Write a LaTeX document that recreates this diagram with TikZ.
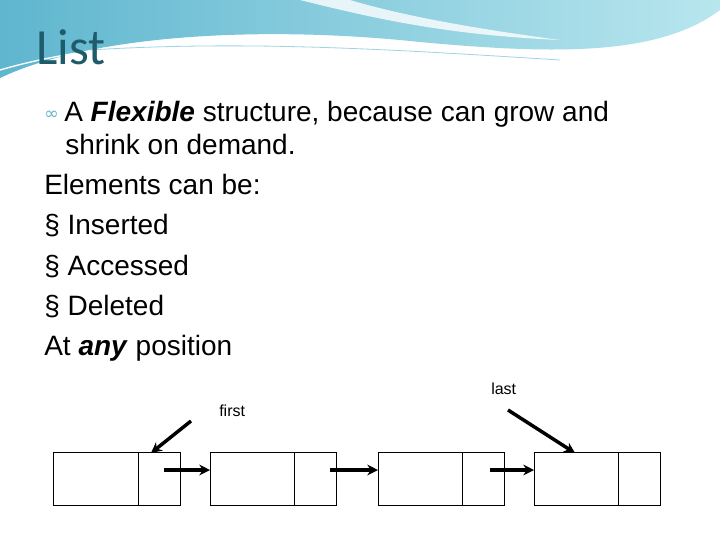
\documentclass[tikz,border=0pt]{standalone}
\usepackage{fontspec}
\setmainfont{Liberation Sans}
\newfontfamily\titlefont{Carlito}
\newfontfamily\symfont{DejaVu Sans}
\definecolor{teal1}{HTML}{1E5B6B}
\definecolor{sky1}{HTML}{5FB6CF}
\definecolor{sky2}{HTML}{B8E6EE}
\tikzset{
  txt/.style={anchor=base west,inner sep=0pt,font=\fontsize{21}{21}\selectfont},
  small/.style={anchor=base west,inner sep=0pt,font=\fontsize{12}{12}\selectfont},
  cell/.style={draw,line width=0.75pt},
  ptr/.style={line width=2.6pt,-{Stealth[length=8pt,width=8pt]}}
}
\usetikzlibrary{arrows.meta}
\begin{document}
\begin{tikzpicture}[x=0.75pt,y=-0.75pt]
\useasboundingbox (0,0) rectangle (720,540);
\fill[white] (0,0) rectangle (720,540);
% header swoosh
\shade[left color=sky1,right color=sky2]
 (0,0)--(720,0)--(720,10) .. controls (660,55) and (560,55) .. (420,42)
 .. controls (260,25) and (90,35) .. (0,78) -- cycle;
\fill[white,opacity=0.8] (300,0) .. controls (380,20) and (450,35) .. (560,40)
 .. controls (470,28) and (400,15) .. (350,0) -- cycle;
\draw[white,line width=1pt] (0,70) .. controls (120,35) and (300,30) .. (520,55);
\draw[sky1!60,line width=0.6pt] (90,50) .. controls (250,40) and (400,50) .. (560,60);
\draw[white,line width=0.8pt] (560,60) .. controls (640,55) and (690,30) .. (720,15);
\node[anchor=base west,inner sep=0pt,text=teal1,font=\titlefont\fontsize{38}{38}\selectfont] (title) at (36,64) {List};
% text
\node[anchor=base west,inner sep=0pt,text=sky1,font=\symfont\fontsize{13}{13}\selectfont] (b0) at (44,119) {∞};
\node[txt] (l1) at (64,121) {A \textbf{\textit{Flexible}} structure, because can grow and};
\node[txt] (l2) at (65,154) {shrink on demand.};
\node[txt] (l3) at (44,194) {Elements can be:};
\node[txt] (l4) at (44,234) {§ Inserted};
\node[txt] (l5) at (44,275) {§ Accessed};
\node[txt] (l6) at (44,315) {§ Deleted};
\node[txt] (l7) at (44,355) {At \textbf{\textit{any}} position};
% list
\foreach \n/\a/\d/\b in {1/53/138/180,2/210/294/336,3/378/462/504,4/534/618/660}{
  \draw[cell] (\a,452) rectangle (\b,505);
  \draw[cell] (\d,452) -- (\d,505);
  \coordinate (in\n) at (\a,470);
}
\coordinate (p1) at (164,470);
\coordinate (p2) at (330,470);
\coordinate (p3) at (490,470);
\draw[ptr] (p1) -- (in2);
\draw[ptr] (p2) -- (in3);
\draw[ptr] (p3) -- (in4);
\node[small] (first) at (219,416) {first};
\node[small] (last) at (491,394) {last};
\coordinate (fs) at (191,421);
\coordinate (fe) at (151,453);
\coordinate (ls) at (508,410);
\coordinate (le) at (575,453);
\draw[ptr] (fs) -- (fe);
\draw[ptr] (ls) -- (le);
\end{tikzpicture}
\end{document}
